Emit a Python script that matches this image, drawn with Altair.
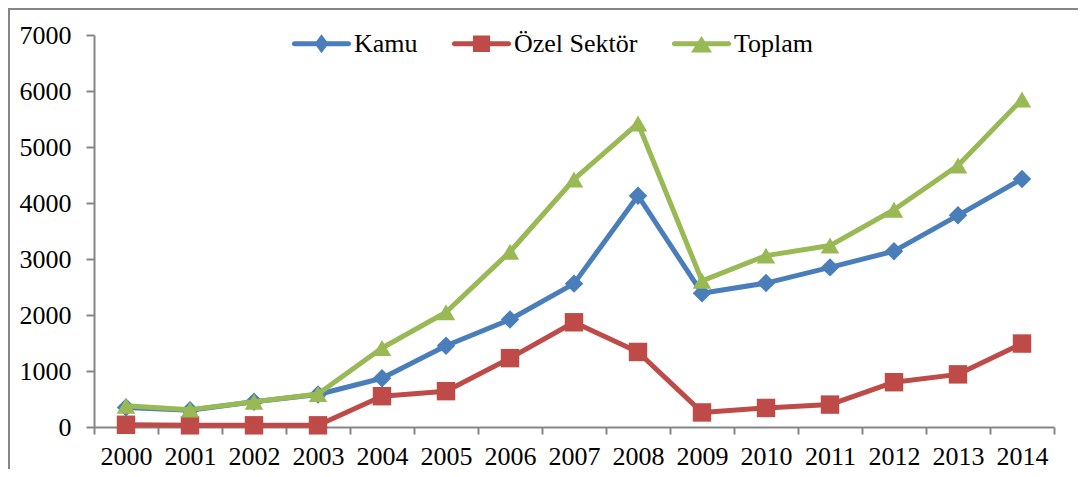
import altair as alt
import pandas as pd

years = [str(y) for y in range(2000, 2015)]
kamu = [350, 300, 450, 580, 870, 1450, 1920, 2560, 4130, 2390, 2570, 2850, 3140, 3780, 4430]
ozel = [40, 30, 30, 30, 550, 640, 1230, 1870, 1340, 260, 340, 400, 800, 940, 1490]
toplam = [380, 310, 450, 590, 1410, 2050, 3130, 4420, 5420, 2610, 3060, 3240, 3880, 4670, 5850]

series_names = ["Kamu", "Özel Sektör", "Toplam"]
colors = ["#4A7EBB", "#BE4B48", "#98B954"]
markers = ["diamond", "square", "triangle-up"]
y_ticks = [0, 1000, 2000, 3000, 4000, 5000, 6000, 7000]

bar = "M-0.95,-0.088 L0.95,-0.088 A0.088,0.088 0 0 1 0.95,0.088 L-0.95,0.088 A0.088,0.088 0 0 1 -0.95,-0.088 Z "
legend_paths = [
    bar + "M0,-0.33 L0.245,0 L0,0.33 L-0.245,0 Z",
    bar + "M-0.3,-0.29 L0.3,-0.29 L0.3,0.29 L-0.3,0.29 Z",
    bar + "M0,-0.27 L0.37,0.31 L-0.37,0.31 Z",
]

rows = []
for name, vals, mk in zip(series_names, [kamu, ozel, toplam], markers):
    for yr, v in zip(years, vals):
        rows.append({"Yil": yr, "Seri": name, "Deger": v, "marker": mk})
df = pd.DataFrame(rows)

FONT = "Liberation Serif"
GRAY = "#868686"
FS = 26

x_enc = alt.X(
    "Yil:O",
    sort=years,
    scale=alt.Scale(type="band", paddingInner=0, paddingOuter=0),
    axis=alt.Axis(
        title=None, labelAngle=0, tickBand="extent", tickSize=7, tickWidth=2,
        tickColor=GRAY, domainColor=GRAY, domainWidth=2, labelFont=FONT,
        labelFontSize=FS, labelColor="black", labelPadding=9,
    ),
)
y_enc = alt.Y(
    "Deger:Q",
    scale=alt.Scale(domain=[0, 7000]),
    axis=alt.Axis(
        title=None, values=y_ticks, format="d", grid=False, tickSize=8, tickWidth=2,
        tickColor=GRAY, domainColor=GRAY, domainWidth=2, labelFont=FONT,
        labelFontSize=FS, labelColor="black", labelPadding=15,
    ),
)
color_scale = alt.Scale(domain=series_names, range=colors)

leg = alt.Legend(
    title=None, orient="none", legendX=199, legendY=-20, direction="horizontal",
    symbolSize=3249, symbolStrokeWidth=0, labelFont=FONT, labelFontSize=FS,
    labelColor="black", columnPadding=33, labelOffset=4, padding=0,
    labelLimit=400,
)
legend_layer = alt.Chart(df).transform_filter("false").mark_point(
    filled=True, opacity=1, size=3249
).encode(
    color=alt.Color("Seri:N", scale=color_scale, legend=leg),
    shape=alt.Shape("Seri:N", scale=alt.Scale(domain=series_names, range=legend_paths), legend=leg),
)

layers = []
for name in series_names:
    base = alt.Chart(df).transform_filter(alt.datum.Seri == name)
    line = base.mark_line(strokeWidth=5, strokeJoin="round", strokeCap="round").encode(
        x=x_enc, y=y_enc, color=alt.Color("Seri:N", scale=color_scale)
    )
    pts = base.mark_point(filled=True, opacity=1, size=340, strokeWidth=1).encode(
        x=x_enc, y=y_enc,
        color=alt.Color("Seri:N", scale=color_scale),
        shape=alt.Shape("marker:N", scale=None),
    )
    layers += [line, pts]

frame = alt.Chart(pd.DataFrame({"k": [0]})).mark_rect(
    fill="transparent", stroke=GRAY, strokeWidth=2
).encode(
    x=alt.value(-85), y=alt.value(-26), x2=alt.value(1100), y2=alt.value(520)
)

chart = alt.layer(legend_layer, frame, *layers).properties(
    width=960, height=392,
    autosize=alt.AutoSizeParams(type="none"),
    padding={"left": 86, "top": 27, "right": 24, "bottom": 42},
).configure_view(stroke="transparent")

chart.save("out.html", embed_options={"renderer": "svg", "actions": False})
